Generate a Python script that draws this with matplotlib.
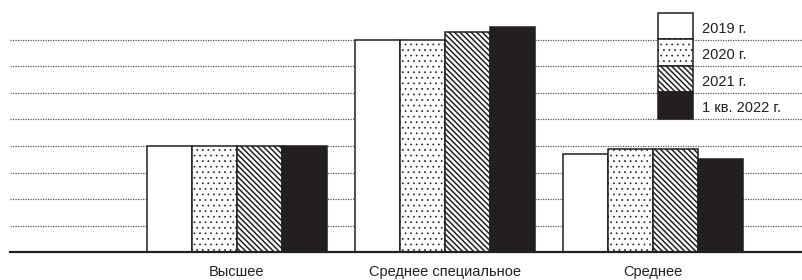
import matplotlib.pyplot as plt
import numpy as np

# Data (one grid step = 1 unit)
categories = ['Высшее', 'Среднее специальное', 'Среднее']
series_labels = ['2019 г.', '2020 г.', '2021 г.', '1 кв. 2022 г.']
values_2019 = [4.0, 8.0, 3.68]
values_2020 = [4.0, 8.0, 3.87]
values_2021 = [4.0, 8.29, 3.87]
values_2022q1 = [4.0, 8.48, 3.50]

series = [values_2019, values_2020, values_2021, values_2022q1]
faces = ['white', 'white', 'white', '#231f20']
hatches = ['', '...', '\\' * 6, '']
hatch_lw = [1.0, 0.5, 1.1, 1.0]

plt.rcParams['font.family'] = ['Liberation Sans', 'DejaVu Sans']

W, H = 802, 280
fig = plt.figure(figsize=(W / 100, H / 100), dpi=100)
ax = fig.add_axes([10 / W, 27.7 / H, (W - 10) / W, 239.4 / H])

x = np.arange(len(categories))
width = 0.2163
for i, vals in enumerate(series):
    plt.rcParams['hatch.linewidth'] = hatch_lw[i]
    ax.bar(x + (i - 1.5) * width, vals, width, color=faces[i],
           edgecolor='#231f20', hatch=hatches[i], linewidth=1.1,
           label=series_labels[i], zorder=3)

ax.set_xlim(-1.091, 2.716)
ax.set_ylim(0, 9)
ax.set_yticks(np.arange(1, 9))
ax.yaxis.grid(True, linestyle=(0, (1, 1)), color='#555555', linewidth=0.9, zorder=0)
ax.tick_params(axis='y', left=False, labelleft=False)
ax.set_xticks(x)
ax.set_xticklabels(categories, fontsize=10.5, color='#231f20')
ax.tick_params(axis='x', length=0, pad=9.5)

for s in ['left', 'right', 'top']:
    ax.spines[s].set_visible(False)
ax.spines['bottom'].set_linewidth(1.6)
ax.spines['bottom'].set_color('#231f20')
ax.spines['bottom'].set_zorder(4)

fs = 10.5 * 100 / 72
hh = (26.5 / fs - 0.245) / 0.65
leg = ax.legend(loc='upper left', bbox_to_anchor=((658 - 10) / (W - 10), 1.0),
                frameon=False, fontsize=10.5, borderpad=0, borderaxespad=0,
                labelspacing=0, handlelength=35 / fs, handleheight=hh,
                handletextpad=9 / fs)
for t in leg.get_texts():
    t.set_color('#231f20')
    t.set_y(-2)
for h, lw in zip(leg.legend_handles, hatch_lw):
    if hasattr(h, 'set_hatch_linewidth'):
        h.set_hatch_linewidth(lw)

plt.savefig('out.png', dpi=100)
